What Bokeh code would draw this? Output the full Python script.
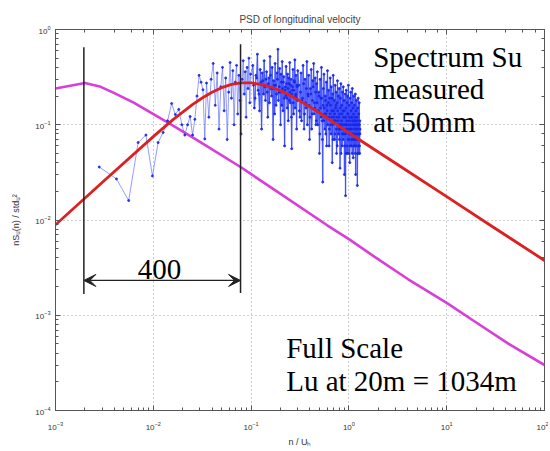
from bokeh.plotting import figure
from bokeh.models import Range1d, LogAxis, Arrow, VeeHead, LogTicker, CustomJSTickFormatter
from bokeh.core.properties import value
from bokeh.embed import file_html
from bokeh.resources import INLINE

# ---- data ----
title_text = "PSD of longitudinal velocity"
x_label = "n / Uₕ"
y_label = "nSᵤ(n) / stdᵤ²"

# full-scale (magenta) spectrum
fs_n = [0.001, 0.002, 0.0029, 0.004, 0.0063, 0.014, 0.030, 0.078, 0.18, 0.60, 1.0, 1.9, 4.0, 10, 19, 43, 100]
fs_s = [0.24, 0.275, 0.25, 0.215, 0.171, 0.106, 0.066, 0.036, 0.0202, 0.0088, 0.0063, 0.0040, 0.0024, 0.00135, 0.00087, 0.0005, 0.0003]

# model (red) spectrum
md_n = [0.001, 0.00316, 0.01, 0.0158, 0.0251, 0.0316, 0.0398, 0.0501, 0.0631, 0.0794, 0.1, 0.126,
        0.158, 0.2, 0.251, 0.316, 0.5, 0.794, 1.17, 3, 10, 30, 100]
md_s = [0.0089, 0.026, 0.075, 0.1125, 0.1626, 0.191, 0.219, 0.245, 0.265, 0.275, 0.275, 0.266,
        0.249, 0.2275, 0.203, 0.178, 0.1337, 0.0968, 0.074, 0.0394, 0.0176, 0.0084, 0.00376]

# measured (blue) spectrum, by frequency band
ms_n_a = [0.0028, 0.0042, 0.0056, 0.0070, 0.0084, 0.0098, 0.0112, 0.0126, 0.0140, 0.0154, 0.0168, 0.0182,
          0.0196, 0.0210, 0.0224, 0.0238, 0.0252, 0.0266, 0.0280, 0.0294, 0.0308, 0.0322, 0.0336, 0.0350]
ms_s_a = [0.036, 0.027, 0.016, 0.065, 0.078, 0.029, 0.065, 0.083, 0.11, 0.167, 0.128, 0.145,
          0.10, 0.078, 0.10, 0.122, 0.078, 0.114, 0.20, 0.33, 0.28, 0.233, 0.071, 0.274]

ms_n_b = [0.037, 0.039, 0.041, 0.043, 0.045, 0.047, 0.049, 0.051, 0.053, 0.055, 0.057, 0.059, 0.061, 0.063, 0.065, 0.067,
          0.069, 0.071, 0.073, 0.075, 0.077, 0.079, 0.081, 0.083, 0.085, 0.087, 0.089, 0.091, 0.093, 0.095, 0.097, 0.099]
ms_s_b = [0.12, 0.30, 0.44, 0.16, 0.35, 0.09, 0.25, 0.40, 0.14, 0.31, 0.07, 0.22, 0.45, 0.19, 0.37, 0.10,
          0.28, 0.42, 0.13, 0.33, 0.18, 0.08, 0.30, 0.47, 0.21, 0.36, 0.12, 0.40, 0.24, 0.50, 0.17, 0.34]

ms_n_c = [0.104, 0.108, 0.112, 0.116, 0.120, 0.124, 0.128, 0.132, 0.136, 0.140,
          0.144, 0.148, 0.152, 0.156, 0.160, 0.164, 0.168, 0.172, 0.176, 0.180,
          0.184, 0.188, 0.192, 0.196, 0.200, 0.204, 0.208, 0.212, 0.216, 0.220,
          0.224, 0.228, 0.232, 0.236, 0.240, 0.244, 0.248, 0.252, 0.256, 0.260,
          0.264, 0.268, 0.272, 0.276, 0.280, 0.284, 0.288, 0.292, 0.296, 0.300]
ms_s_c = [0.42, 0.15, 0.33, 0.55, 0.21, 0.38, 0.09, 0.29, 0.47, 0.18,
          0.36, 0.12, 0.31, 0.52, 0.24, 0.40, 0.07, 0.26, 0.44, 0.16,
          0.35, 0.62, 0.22, 0.39, 0.10, 0.28, 0.46, 0.14, 0.32, 0.06,
          0.25, 0.41, 0.19, 0.34, 0.11, 0.27, 0.45, 0.17, 0.30, 0.056,
          0.23, 0.38, 0.13, 0.29, 0.48, 0.20, 0.33, 0.09, 0.25, 0.37]

ms_n_f = [0.106, 0.110, 0.114, 0.118, 0.122, 0.126, 0.130, 0.134, 0.138, 0.142,
          0.146, 0.150, 0.154, 0.158, 0.162, 0.166, 0.170, 0.174, 0.178, 0.182,
          0.186, 0.190, 0.194, 0.198, 0.202, 0.206, 0.210, 0.214, 0.218, 0.222,
          0.226, 0.230, 0.234, 0.238, 0.242, 0.246, 0.250, 0.254, 0.258, 0.262,
          0.266, 0.270, 0.274, 0.278, 0.282, 0.286, 0.290, 0.294, 0.298]
ms_s_f = [0.26, 0.19, 0.31, 0.23, 0.14, 0.28, 0.35, 0.21, 0.25, 0.30,
          0.22, 0.27, 0.17, 0.33, 0.20, 0.24, 0.29, 0.13, 0.26, 0.21,
          0.30, 0.18, 0.25, 0.22, 0.34, 0.16, 0.24, 0.28, 0.19, 0.23,
          0.20, 0.27, 0.15, 0.24, 0.31, 0.18, 0.22, 0.26, 0.12, 0.21,
          0.25, 0.17, 0.23, 0.28, 0.15, 0.21, 0.19, 0.26, 0.18]

ms_n_d = [0.308, 0.316, 0.324, 0.332, 0.340, 0.348, 0.356, 0.364, 0.372, 0.380,
          0.388, 0.396, 0.404, 0.412, 0.420, 0.428, 0.436, 0.444, 0.452, 0.460,
          0.468, 0.476, 0.484, 0.492, 0.500, 0.508, 0.516, 0.524, 0.532, 0.540,
          0.548, 0.556, 0.564, 0.572, 0.580, 0.588, 0.596, 0.604, 0.612, 0.620,
          0.628, 0.636, 0.644, 0.652, 0.660, 0.668, 0.676, 0.684, 0.692, 0.700,
          0.708, 0.716, 0.724, 0.732, 0.740, 0.748, 0.756, 0.764, 0.772, 0.780,
          0.788, 0.796, 0.804, 0.812, 0.820, 0.828, 0.836, 0.844, 0.852, 0.860,
          0.868, 0.876, 0.884, 0.892, 0.900, 0.908, 0.916, 0.924, 0.932, 0.940,
          0.948, 0.956, 0.964, 0.972, 0.980, 0.988, 0.996, 1.004, 1.012, 1.020,
          1.028, 1.036, 1.044, 1.052, 1.060, 1.068, 1.076, 1.084, 1.092, 1.100,
          1.108, 1.116, 1.124, 1.132, 1.140, 1.148, 1.156, 1.164, 1.172, 1.180,
          1.188, 1.196, 1.204, 1.212, 1.220, 1.228, 1.236, 1.244, 1.252, 1.260,
          1.268, 1.276, 1.284, 1.292, 1.300]
ms_s_d = [0.26, 0.12, 0.35, 0.18, 0.42, 0.09, 0.30, 0.15, 0.46, 0.21,
          0.33, 0.07, 0.24, 0.38, 0.13, 0.29, 0.44, 0.17, 0.31, 0.10,
          0.27, 0.36, 0.14, 0.22, 0.05, 0.30, 0.19, 0.40, 0.11, 0.025,
          0.24, 0.34, 0.13, 0.20, 0.08, 0.28, 0.16, 0.37, 0.12, 0.23,
          0.06, 0.19, 0.31, 0.10, 0.25, 0.14, 0.04, 0.21, 0.33, 0.12,
          0.18, 0.07, 0.26, 0.15, 0.22, 0.05, 0.17, 0.29, 0.11, 0.20,
          0.09, 0.24, 0.13, 0.035, 0.19, 0.27, 0.10, 0.16, 0.06, 0.22,
          0.14, 0.25, 0.08, 0.18, 0.03, 0.12, 0.21, 0.018, 0.15, 0.23,
          0.10, 0.17, 0.05, 0.20, 0.13, 0.26, 0.07, 0.16, 0.11, 0.04,
          0.19, 0.09, 0.22, 0.14, 0.06, 0.17, 0.12, 0.24, 0.08, 0.15,
          0.045, 0.13, 0.20, 0.10, 0.16, 0.06, 0.11, 0.21, 0.03, 0.14,
          0.09, 0.18, 0.07, 0.12, 0.023, 0.15, 0.10, 0.19, 0.05, 0.13,
          0.08, 0.17, 0.06, 0.11, 0.09]

ms_n_e = [0.312, 0.320, 0.328, 0.336, 0.344, 0.352, 0.360, 0.368, 0.376, 0.384,
          0.392, 0.400, 0.408, 0.416, 0.424, 0.432, 0.440, 0.448, 0.456, 0.464,
          0.472, 0.480, 0.488, 0.496, 0.504, 0.512, 0.520, 0.528, 0.536, 0.544,
          0.552, 0.560, 0.568, 0.576, 0.584, 0.592, 0.600, 0.608, 0.616, 0.624,
          0.632, 0.640, 0.648, 0.656, 0.664, 0.672, 0.680, 0.688, 0.696, 0.704,
          0.712, 0.720, 0.728, 0.736, 0.744, 0.752, 0.760, 0.768, 0.776, 0.784,
          0.792, 0.800, 0.808, 0.816, 0.824, 0.832, 0.840, 0.848, 0.856, 0.864,
          0.872, 0.880, 0.888, 0.896, 0.904, 0.912, 0.920, 0.928, 0.936, 0.944,
          0.952, 0.960, 0.968, 0.976, 0.984, 0.992, 1.000, 1.008, 1.016, 1.024,
          1.032, 1.040, 1.048, 1.056, 1.064, 1.072, 1.080, 1.088, 1.096, 1.104,
          1.112, 1.120, 1.128, 1.136, 1.144, 1.152, 1.160, 1.168, 1.176, 1.184,
          1.192, 1.200, 1.208, 1.216, 1.224, 1.232, 1.240, 1.248, 1.256, 1.264,
          1.272, 1.280, 1.288, 1.296]
ms_s_e = [0.14, 0.22, 0.11, 0.19, 0.27, 0.13, 0.17, 0.24, 0.10, 0.20,
          0.16, 0.12, 0.21, 0.09, 0.18, 0.25, 0.13, 0.15, 0.22, 0.11,
          0.17, 0.10, 0.14, 0.20, 0.08, 0.15, 0.12, 0.19, 0.07, 0.16,
          0.11, 0.15, 0.09, 0.18, 0.13, 0.06, 0.14, 0.10, 0.17, 0.12,
          0.09, 0.13, 0.16, 0.08, 0.12, 0.19, 0.10, 0.07, 0.14, 0.11,
          0.13, 0.08, 0.11, 0.16, 0.09, 0.12, 0.06, 0.14, 0.10, 0.08,
          0.12, 0.07, 0.10, 0.15, 0.09, 0.05, 0.11, 0.13, 0.08, 0.10,
          0.07, 0.12, 0.09, 0.14, 0.06, 0.10, 0.08, 0.12, 0.05, 0.09,
          0.11, 0.06, 0.09, 0.13, 0.07, 0.10, 0.05, 0.12, 0.08, 0.09,
          0.06, 0.10, 0.08, 0.12, 0.07, 0.09, 0.05, 0.11, 0.07, 0.10,
          0.08, 0.06, 0.11, 0.07, 0.09, 0.12, 0.05, 0.08, 0.10, 0.07,
          0.10, 0.06, 0.08, 0.11, 0.05, 0.09, 0.07, 0.10, 0.06, 0.08,
          0.07, 0.10, 0.05, 0.08]

# annotation: scale-ratio marker
ratio_n = [0.00195, 0.078]
ratio_top = [0.65, 0.70]
ratio_bottom = [0.00167, 0.00171]
ratio_arrow_s = 0.00232
ratio_text = "400"
ratio_text_n = 0.0116
ratio_text_s = 0.00305

note1_lines = ["Spectrum Su", "measured", "at 50mm"]
note1_n = 1.77
note1_s = [0.52, 0.24, 0.108]
note2_lines = ["Full Scale", "Lu at 20m = 1034m"]
note2_n = 0.2286
note2_s = [4.56e-4, 2.03e-4]

# merge all bands in frequency order
_pairs = sorted(zip(ms_n_a + ms_n_b + ms_n_c + ms_n_f + ms_n_d + ms_n_e,
                    ms_s_a + ms_s_b + ms_s_c + ms_s_f + ms_s_d + ms_s_e))
ms_n = [a for a, b in _pairs]
ms_s = [b for a, b in _pairs]
dense_n = [a for a, b in _pairs if a >= 0.1]
dense_s = [b for a, b in _pairs if a >= 0.1]

AX = "#555555"
LBL = "#333333"
SANS = "Liberation Sans"
SERIF = "Liberation Serif"

p = figure(width=548, height=449, x_axis_type="log", y_axis_type="log",
           x_range=Range1d(1e-3, 1e2), y_range=Range1d(1e-4, 1e0),
           output_backend="svg", toolbar_location=None,
           min_border_left=55, min_border_right=4, min_border_top=29, min_border_bottom=35,
           background_fill_color="white", border_fill_color="white")

p.title.text = title_text
p.title.align = "center"
p.title.text_font = SANS
p.title.text_font_size = "10px"
p.title.text_font_style = "normal"
p.title.text_color = "#444444"
p.title.standoff = 0
p.title.offset = 0

p.outline_line_color = AX
p.outline_line_width = 1

for ax in (p.xaxis[0], p.yaxis[0]):
    ax.axis_line_color = AX
    ax.major_tick_line_color = AX
    ax.minor_tick_line_color = AX
    ax.major_tick_in = 5
    ax.major_tick_out = 0
    ax.minor_tick_in = 3
    ax.minor_tick_out = 0
    ax.major_label_text_font = SANS
    ax.major_label_text_font_size = "8px"
    ax.major_label_text_color = LBL
    ax.axis_label_text_font = SANS
    ax.axis_label_text_font_size = "9px"
    ax.axis_label_text_font_style = "normal"
    ax.axis_label_text_color = LBL

p.xaxis.axis_label = x_label
p.yaxis.axis_label = y_label
p.xaxis.major_label_standoff = 11
p.yaxis.major_label_standoff = 5
p.xaxis.axis_label_standoff = 4
p.yaxis.axis_label_standoff = 11

for side in ("right", "above"):
    ax = LogAxis(ticker=LogTicker(), formatter=CustomJSTickFormatter(code="return ' '"))
    ax.axis_line_color = None
    ax.major_tick_line_color = AX
    ax.minor_tick_line_color = AX
    ax.major_tick_in = 5
    ax.major_tick_out = 0
    ax.minor_tick_in = 3
    ax.minor_tick_out = 0
    ax.major_label_text_font_size = "2px"
    ax.major_label_standoff = 0
    p.add_layout(ax, side)

p.xgrid.grid_line_color = "#999999"
p.ygrid.grid_line_color = "#999999"
p.xgrid.grid_line_dash = "1 3"
p.ygrid.grid_line_dash = "1 3"
p.xgrid.grid_line_width = 1
p.ygrid.grid_line_width = 1
p.xgrid.minor_grid_line_color = None
p.ygrid.minor_grid_line_color = None

# curves
p.line(fs_n, fs_s, line_color="#d83fd8", line_width=2.6)
p.line(ms_n, ms_s, line_color="#5565ff", line_width=0.8, line_alpha=0.8)
p.line(dense_n, dense_s, line_color="#1a2bff", line_width=1.4, line_alpha=0.55)
p.scatter(ms_n, ms_s, size=2.0, color="#1a28e0", alpha=0.9)
p.line(md_n, md_s, line_color="#dd2020", line_width=2.8)

# ratio marker
p.segment(x0=ratio_n, y0=ratio_bottom, x1=ratio_n, y1=ratio_top, line_color="#222222", line_width=1.5)
p.add_layout(Arrow(x_start=ratio_n[0], y_start=ratio_arrow_s, x_end=ratio_n[1], y_end=ratio_arrow_s,
                   line_color="#222222", line_width=1.3,
                   start=VeeHead(size=12, fill_color="#222222", line_color="#222222"),
                   end=VeeHead(size=12, fill_color="#222222", line_color="#222222")))
p.text(x=[ratio_text_n], y=[ratio_text_s], text=[ratio_text], text_font=value(SERIF),
       text_font_size=value("29px"), text_align="center", text_baseline="alphabetic", text_color="black")

p.text(x=[note1_n] * len(note1_lines), y=note1_s, text=note1_lines, text_font=value(SERIF),
       text_font_size=value("29px"), text_align="left", text_baseline="alphabetic", text_color="black")
p.text(x=[note2_n] * len(note2_lines), y=note2_s, text=note2_lines, text_font=value(SERIF),
       text_font_size=value("29px"), text_align="left", text_baseline="alphabetic", text_color="black")

open("out.html", "w").write(file_html(p, INLINE))
